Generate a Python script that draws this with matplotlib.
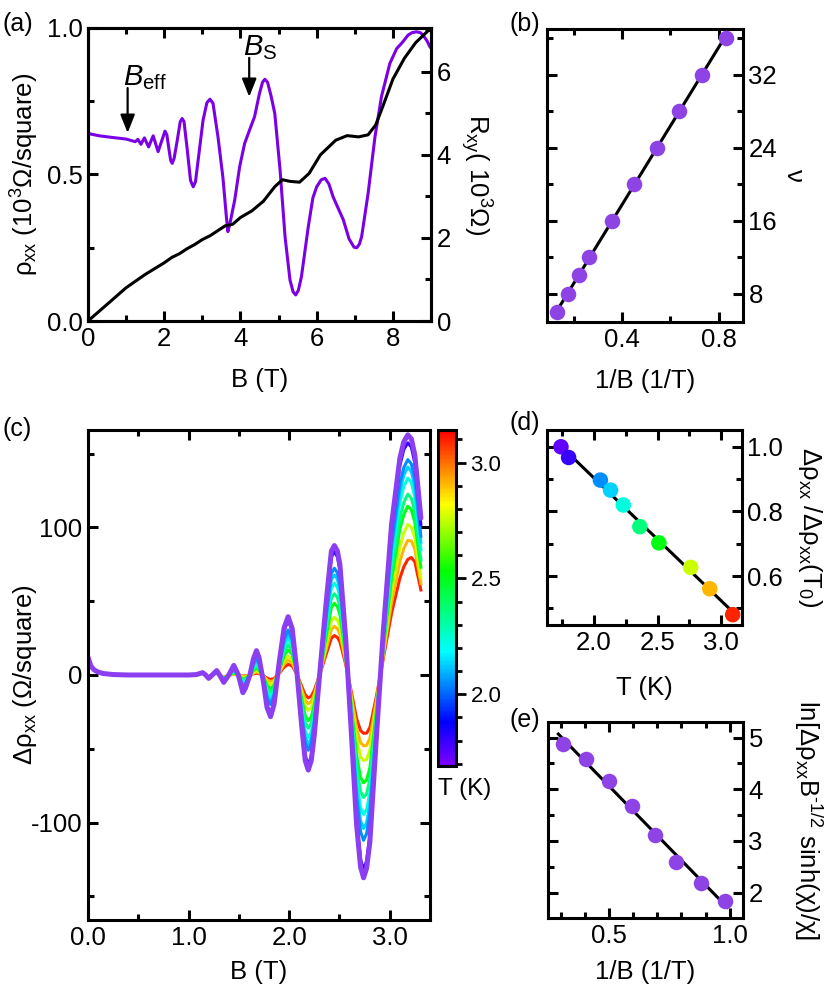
import numpy as np
import matplotlib
matplotlib.use('Agg')
import matplotlib.pyplot as plt
from matplotlib.colors import LinearSegmentedColormap, Normalize
from matplotlib.cm import ScalarMappable
from matplotlib.ticker import MultipleLocator, FormatStrFormatter

plt.rcParams['font.family'] = ['Liberation Sans', 'DejaVu Sans']
plt.rcParams['mathtext.fontset'] = 'custom'
plt.rcParams['mathtext.rm'] = 'Liberation Sans'
plt.rcParams['mathtext.it'] = 'Liberation Sans:italic'
plt.rcParams['mathtext.bf'] = 'Liberation Sans:bold'
plt.rcParams['axes.unicode_minus'] = False
plt.rcParams['font.size'] = 18.5
plt.rcParams['axes.linewidth'] = 2.2

# -----------------------------------------------------------------------------
# (a) rho_xx and R_xy vs B
# -----------------------------------------------------------------------------
B_rho = [0.0, 0.3, 0.6, 1.0, 1.24, 1.31, 1.39, 1.48, 1.59, 1.71, 1.84, 1.93,
         2.02, 2.07, 2.12, 2.17, 2.21, 2.26, 2.34, 2.42, 2.47, 2.52, 2.60, 2.69,
         2.76, 2.82, 2.88, 3.02, 3.12, 3.20, 3.28, 3.41, 3.54, 3.63, 3.67, 3.72,
         3.85, 3.98, 4.11, 4.24, 4.37, 4.50, 4.58, 4.64, 4.71, 4.80, 4.90, 5.04,
         5.17, 5.30, 5.38, 5.45, 5.52, 5.60, 5.78, 5.90, 6.00, 6.12, 6.22, 6.32,
         6.43, 6.70, 6.85, 6.98, 7.05, 7.12, 7.18, 7.35, 7.53, 7.70, 7.92, 8.10,
         8.23, 8.40, 8.50, 8.62, 8.72, 8.79, 8.90, 8.97]
rho_xx = [0.640, 0.632, 0.627, 0.621, 0.612, 0.620, 0.603, 0.625, 0.594, 0.632,
          0.578, 0.613, 0.648, 0.635, 0.590, 0.548, 0.538, 0.555, 0.615, 0.680,
          0.691, 0.680, 0.590, 0.480, 0.458, 0.475, 0.538, 0.686, 0.745, 0.757,
          0.743, 0.629, 0.490, 0.357, 0.305, 0.330, 0.413, 0.527, 0.606, 0.652,
          0.697, 0.777, 0.815, 0.825, 0.815, 0.770, 0.709, 0.515, 0.288, 0.140,
          0.100, 0.089, 0.105, 0.151, 0.322, 0.420, 0.458, 0.482, 0.487, 0.468,
          0.424, 0.345, 0.280, 0.252, 0.250, 0.262, 0.288, 0.436, 0.629, 0.766,
          0.879, 0.930, 0.948, 0.976, 0.984, 0.987, 0.984, 0.976, 0.955, 0.936]

B_hall = [0, 0.5, 1.0, 1.5, 1.75, 2.0, 2.2, 2.4, 2.6, 2.8, 3.0, 3.2, 3.4, 3.6,
          3.8, 4.0, 4.3, 4.6, 4.9, 5.1, 5.3, 5.55, 5.8, 6.1, 6.5, 6.8, 7.1,
          7.35, 7.55, 7.75, 8.0, 8.3, 8.6, 9.0]
R_xy = [0, 0.40, 0.80, 1.12, 1.26, 1.40, 1.53, 1.62, 1.74, 1.84, 1.96, 2.05,
        2.17, 2.29, 2.33, 2.49, 2.65, 2.88, 3.23, 3.40, 3.36, 3.34, 3.55, 4.00,
        4.35, 4.46, 4.43, 4.48, 4.72, 5.20, 5.82, 6.32, 6.70, 7.05]

# (b) filling factor vs 1/B
invB_b = [0.133, 0.175, 0.221, 0.265, 0.359, 0.449, 0.543, 0.636, 0.730, 0.828]
nu_b = [6, 8, 10, 12, 16, 20, 24, 28, 32, 36]

# (c) delta rho_xx for lowest temperature, plus read extrema for every T
B_c = [0.00, 0.03, 0.06, 0.10, 0.15, 0.25, 0.40, 0.60, 0.80, 1.00, 1.08, 1.14,
       1.17, 1.20, 1.24, 1.28, 1.315, 1.35, 1.40, 1.45, 1.495, 1.54, 1.565,
       1.61, 1.645, 1.675, 1.70, 1.745, 1.78, 1.815, 1.85, 1.90, 1.95, 1.99,
       2.03, 2.074, 2.124, 2.16, 2.19, 2.22, 2.25, 2.306, 2.372, 2.42, 2.45,
       2.48, 2.505, 2.562, 2.614, 2.671, 2.71, 2.74, 2.77, 2.803, 2.869, 2.936,
       3.018, 3.101, 3.14, 3.18, 3.215, 3.25, 3.31]
drho_T0 = [12, 6, 3.5, 2, 1, 0.3, 0, 0, 0, 0, 0.3, 1.6,
           0, -2.3, 0.3, 3.0, -0.8, -5.0, 0, 6.5, 0, -12.0, -9,
           0, 11, 16.5, 12, -5, -22, -28.2, -20, 8, 32, 39.5,
           31.6, 4.5, -33.9, -58, -64.4, -58, -40.7, 2.3, 52, 84, 87.7,
           84, 74.6, 24.9, -33.9, -101.7, -130, -137.4, -131, -113, -40.7, 29.4,
           101.7, 146.9, 158, 162.7, 160, 149, 106.2]

T_c = [1.74, 1.80, 2.05, 2.13, 2.23, 2.36, 2.51, 2.76, 2.91, 3.09]
ext_B = [1.45, 1.54, 1.675, 1.815, 1.99, 2.19, 2.45, 2.74, 3.18, 3.31]
ext_vals = [
    [6.5, -12.0, 16.5, -28.2, 39.5, -64.4, 87.7, -137.4, 162.7, 106.2],
    [6.0, -11.0, 15.3, -26.3, 37.3, -61.0, 83.5, -132.0, 157.3, 102.0],
    [4.3, -8.0, 11.3, -20.0, 30.5, -51.0, 72.3, -112.0, 145.9, 94.0],
    [3.7, -6.8, 9.8, -17.6, 27.5, -47.0, 67.8, -104.0, 140.9, 90.0],
    [3.0, -5.5, 8.2, -15.0, 24.5, -42.5, 62.1, -94.5, 133.4, 85.0],
    [2.2, -4.0, 6.2, -11.8, 20.5, -36.0, 55.0, -83.0, 122.5, 78.0],
    [1.6, -3.0, 4.7, -9.3, 17.0, -31.0, 48.5, -73.0, 114.4, 73.0],
    [0.9, -1.8, 2.9, -6.3, 12.8, -24.0, 39.0, -58.0, 102.0, 66.0],
    [0.6, -1.2, 2.0, -4.5, 10.0, -19.5, 33.0, -48.0, 91.3, 62.0],
    [0.4, -0.8, 1.2, -3.0, 7.2, -15.5, 26.7, -39.5, 78.3, 57.6],
]

# (d) normalized amplitude vs T
T_d = [1.74, 1.80, 2.05, 2.13, 2.23, 2.36, 2.51, 2.76, 2.91, 3.09]
amp_d = [1.0, 0.967, 0.897, 0.866, 0.820, 0.753, 0.703, 0.627, 0.561, 0.481]

# (e) Dingle plot
invB_e = [0.309, 0.406, 0.500, 0.597, 0.689, 0.778, 0.880, 0.982]
dingle_e = [4.865, 4.58, 4.155, 3.685, 3.124, 2.594, 2.194, 1.838]


cmap = LinearSegmentedColormap.from_list(
    'igor_rainbow', [(0.0, '#8000ff'), (0.13, '#0000ff'), (0.34, '#00ffff'),
                     (0.58, '#00ff00'), (0.78, '#ffff00'), (1.0, '#ff0000')])
norm = Normalize(vmin=1.69, vmax=3.14)
FS = 18.5


def style(ax, xmaj, xmin, ymaj, ymin):
    ax.xaxis.set_major_locator(MultipleLocator(xmaj))
    ax.xaxis.set_minor_locator(MultipleLocator(xmin))
    ax.yaxis.set_major_locator(MultipleLocator(ymaj))
    ax.yaxis.set_minor_locator(MultipleLocator(ymin))
    ax.tick_params(which='both', direction='in', top=True, right=True,
                   width=2.2, labelsize=FS)
    ax.tick_params(which='major', length=7, pad=4)
    ax.tick_params(which='minor', length=4.5)


def right_label(ax, text, x):
    ax.yaxis.set_label_position('right')
    ax.set_ylabel(text, rotation=-90)
    ax.yaxis.set_label_coords(x, 0.5)
    ax.yaxis.label.set_va('center')
    ax.yaxis.label.set_ha('center')


def x_label(ax, text, y):
    ax.set_xlabel(text)
    ax.xaxis.set_label_coords(0.5, y)
    ax.xaxis.label.set_va('center')


fig = plt.figure(figsize=(8.3, 9.96), dpi=100)

# -----------------------------------------------------------------------------
# Panel (a)
# -----------------------------------------------------------------------------
ax_a = fig.add_axes([0.1060, 0.6777, 0.4133, 0.2942])
ax_a.plot(B_rho, rho_xx, color='#7b00e6', lw=2.2)
ax_a.set_xlim(0, 9)
ax_a.set_ylim(0, 1.0)
style(ax_a, 2, 1, 0.5, 0.25)
ax_a.tick_params(which='both', right=False)
ax_a.yaxis.set_major_formatter(FormatStrFormatter('%.1f'))
ax_a.set_ylabel('ρ$_{\\rm xx}$ (10$^{\\rm 3}$Ω/square)')
ax_a.yaxis.set_label_coords(-0.185, 0.5)
ax_a.yaxis.label.set_va('center')
x_label(ax_a, 'B (T)', -0.20)

ax_r = ax_a.twinx()
ax_r.plot(B_hall, R_xy, 'k-', lw=2.2)
ax_r.set_ylim(0, 7.05)
ax_r.yaxis.set_major_locator(MultipleLocator(2))
ax_r.yaxis.set_minor_locator(MultipleLocator(1))
ax_r.tick_params(which='both', direction='in', width=2.2, labelsize=FS)
ax_r.tick_params(which='major', length=7, pad=4)
ax_r.tick_params(which='minor', length=4.5)
right_label(ax_r, 'R$_{\\rm xy}$( 10$^{\\rm 3}$Ω)', 1.13)

arrow = dict(arrowstyle='-|>,head_length=0.55,head_width=0.22', color='k',
             lw=1.6, mutation_scale=20, shrinkA=0, shrinkB=0)
ax_a.annotate('', xy=(1.04, 0.642), xytext=(1.04, 0.795), arrowprops=arrow)
ax_a.annotate('', xy=(4.23, 0.765), xytext=(4.23, 0.898), arrowprops=arrow)
ax_a.text(0.92, 0.805, '$B_{\\rm eff}$', fontsize=21)
ax_a.text(4.07, 0.908, '$B_{\\rm S}$', fontsize=21)

# -----------------------------------------------------------------------------
# Panel (b)
# -----------------------------------------------------------------------------
ax_b = fig.add_axes([0.6590, 0.6767, 0.2361, 0.2942])
coef_b = np.polyfit(invB_b, nu_b, 1)
xl = np.array([0.125, 0.83])
ax_b.plot(xl, np.polyval(coef_b, xl), 'k-', lw=2.2)
ax_b.scatter(invB_b, nu_b, s=125, color='#8e44e4', linewidths=0, zorder=3,
             clip_on=False)
ax_b.set_xlim(0.09, 0.90)
ax_b.set_ylim(4.9, 37.0)
style(ax_b, 0.4, 0.2, 8, 4)
ax_b.tick_params(axis='y', which='both', labelleft=False, labelright=True)
right_label(ax_b, 'ν', 1.26)
x_label(ax_b, '1/B (1/T)', -0.20)

# -----------------------------------------------------------------------------
# Panel (c)
# -----------------------------------------------------------------------------
ax_c = fig.add_axes([0.1060, 0.0763, 0.4120, 0.4920])
B_c = np.array(B_c)
base = np.array(drho_T0)
ext0 = np.array(ext_vals[0])
for i in reversed(range(len(T_c))):
    ratio = np.interp(B_c, np.r_[1.10, ext_B],
                      np.r_[1.0, np.array(ext_vals[i]) / ext0])
    if i == 0:
        ax_c.plot(B_c, base, color='#8c3ff0', lw=3.6, solid_capstyle='round')
    else:
        ax_c.plot(B_c, base * ratio, color=cmap(norm(T_c[i])), lw=2.2)
ax_c.set_xlim(0, 3.4)
ax_c.set_ylim(-166, 166)
style(ax_c, 1.0, 0.5, 100, 50)
ax_c.xaxis.set_major_formatter(FormatStrFormatter('%.1f'))
ax_c.set_ylabel('Δρ$_{\\rm xx}$ (Ω/square)')
ax_c.yaxis.set_label_coords(-0.185, 0.5)
ax_c.yaxis.label.set_va('center')
x_label(ax_c, 'B (T)', -0.106)

cax = fig.add_axes([0.5277, 0.2309, 0.0217, 0.3373])
cb = fig.colorbar(ScalarMappable(norm=norm, cmap=cmap), cax=cax)
cb.outline.set_linewidth(2.2)
cb.set_ticks([2.0, 2.5, 3.0])
cb.ax.yaxis.set_minor_locator(MultipleLocator(0.1))
cb.ax.yaxis.set_major_formatter(FormatStrFormatter('%.1f'))
cb.ax.tick_params(which='major', length=7, width=2, labelsize=16)
cb.ax.tick_params(which='minor', length=4.5, width=2)
fig.text(465 / 830, 1 - 789 / 996, 'T (K)', ha='center', va='center',
         fontsize=17.5)

# -----------------------------------------------------------------------------
# Panel (d)
# -----------------------------------------------------------------------------
ax_d = fig.add_axes([0.6590, 0.3725, 0.2349, 0.1958])
coef_d = np.polyfit(T_d, amp_d, 1)
xl = np.array([1.72, 3.10])
ax_d.plot(xl, np.polyval(coef_d, xl), 'k-', lw=2.2)
ax_d.scatter(T_d, amp_d, s=125, c=[cmap(norm(t)) for t in T_d], linewidths=0,
             zorder=3, clip_on=False)
ax_d.set_xlim(1.63, 3.163)
ax_d.set_ylim(0.449, 1.052)
style(ax_d, 0.5, 0.25, 0.2, 0.1)
ax_d.xaxis.set_major_formatter(FormatStrFormatter('%.1f'))
ax_d.yaxis.set_major_formatter(FormatStrFormatter('%.1f'))
ax_d.tick_params(axis='y', which='both', labelleft=False, labelright=True)
right_label(ax_d, 'Δρ$_{\\rm xx}$ /Δρ$_{\\rm xx}$(T$_{\\rm 0}$)', 1.35)
x_label(ax_d, 'T (K)', -0.323)

# -----------------------------------------------------------------------------
# Panel (e)
# -----------------------------------------------------------------------------
ax_e = fig.add_axes([0.6602, 0.0783, 0.2349, 0.1968])
coef_e = np.polyfit(invB_e, dingle_e, 1)
xl = np.array([0.29, 0.99])
ax_e.plot(xl, np.polyval(coef_e, xl), 'k-', lw=2.2)
ax_e.scatter(invB_e, dingle_e, s=125, color='#8e44e4', linewidths=0, zorder=3,
             clip_on=False)
ax_e.set_xlim(0.247, 1.055)
ax_e.set_ylim(1.51, 5.30)
style(ax_e, 0.5, 0.1, 1, 0.5)
ax_e.xaxis.set_major_formatter(FormatStrFormatter('%.1f'))
ax_e.tick_params(axis='y', which='both', labelleft=False, labelright=True)
right_label(ax_e, 'ln[Δρ$_{\\rm xx}$B$^{\\rm \u20101/2}$ sinh(χ)/χ]', 1.333)
x_label(ax_e, '1/B (1/T)', -0.275)

# panel letters
for lab, px, py in [('(a)', 2, 24), ('(b)', 509, 24), ('(c)', 2, 429),
                    ('(d)', 509, 423), ('(e)', 509, 720)]:
    fig.text(px / 830, 1 - py / 996, lab, ha='left', va='center', fontsize=18)

fig.savefig('out.png', dpi=100)
